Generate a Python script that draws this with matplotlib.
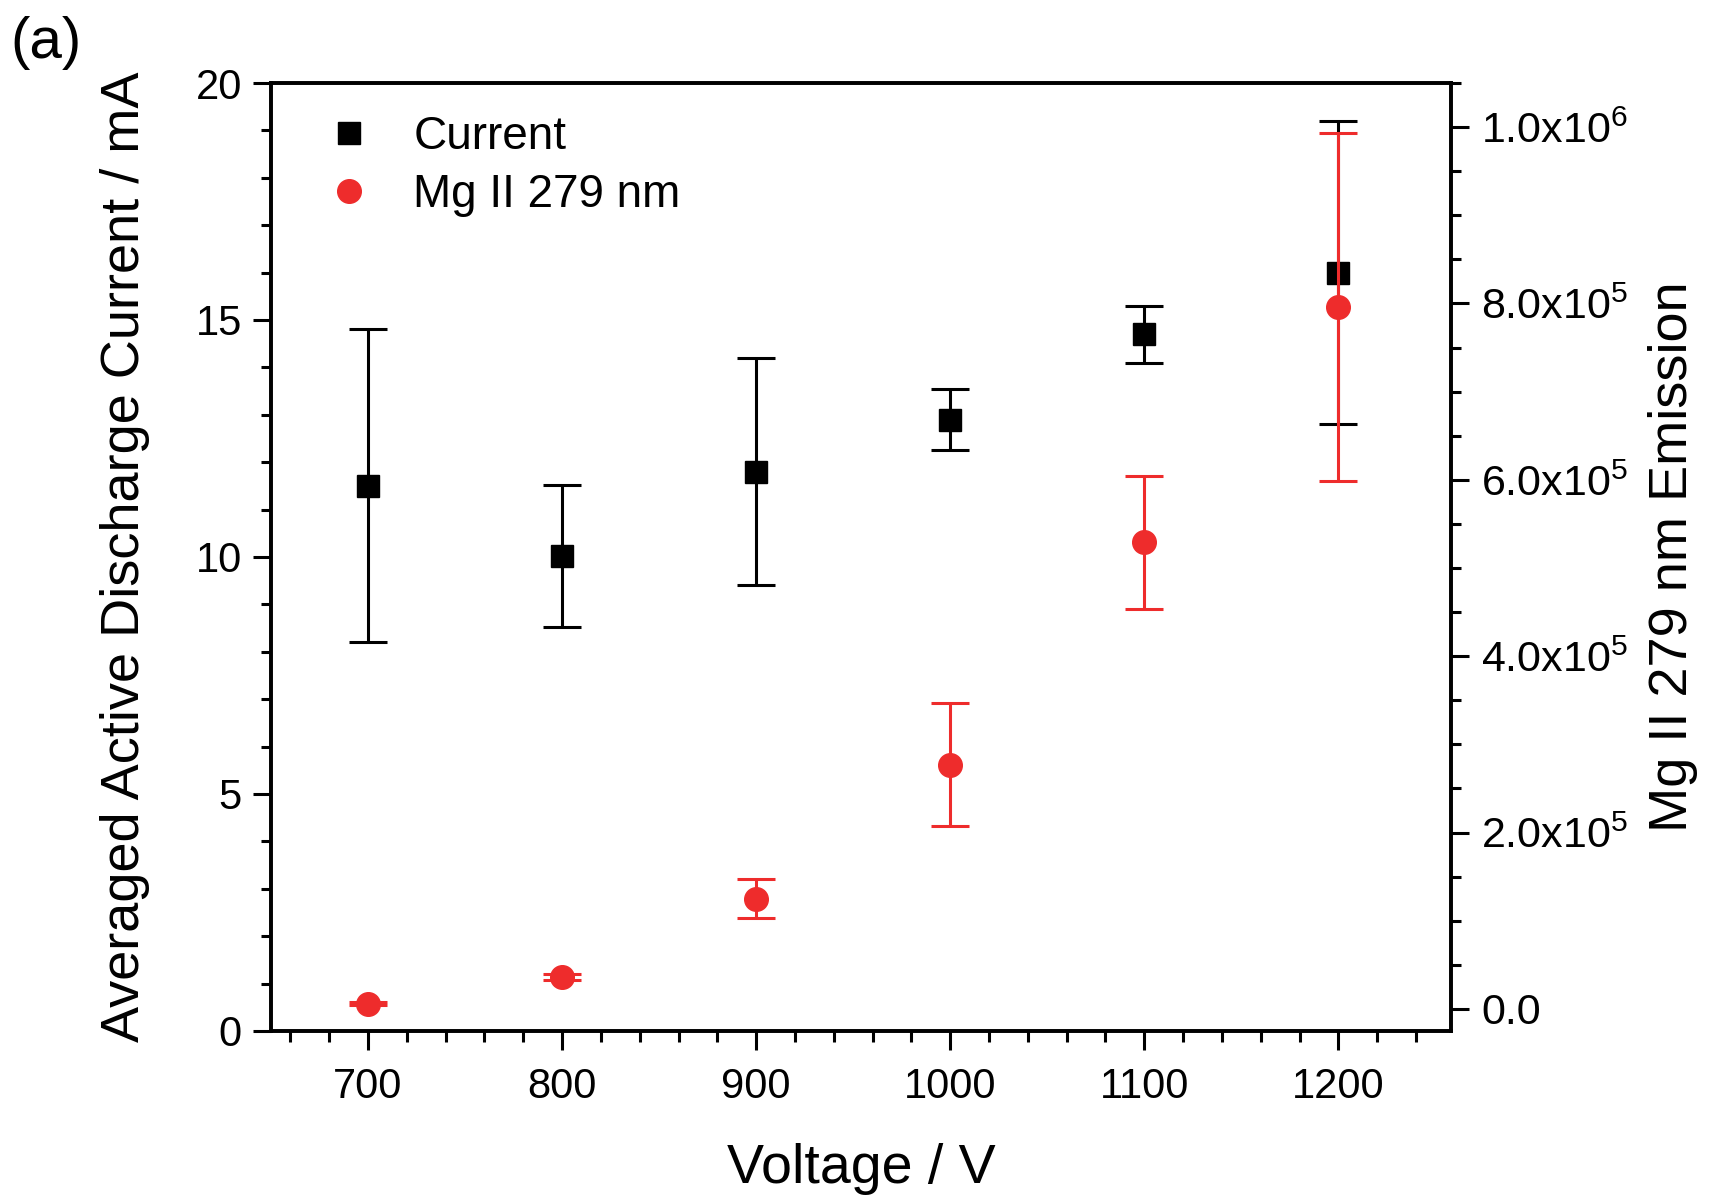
import numpy as np
import matplotlib
matplotlib.use("Agg")
import matplotlib.pyplot as plt
from matplotlib.ticker import MultipleLocator, FuncFormatter
from matplotlib.lines import Line2D

plt.rcParams['font.family'] = ['Liberation Sans', 'DejaVu Sans']
plt.rcParams['mathtext.fontset'] = 'custom'
plt.rcParams['mathtext.rm'] = 'Liberation Sans'

voltage = [700, 800, 900, 1000, 1100, 1200]
current = [11.5, 10.02, 11.8, 12.9, 14.7, 16.0]
current_err = [3.3, 1.5, 2.4, 0.65, 0.6, 3.2]
mg_emission = [6.0e3, 3.6e4, 1.25e5, 2.77e5, 5.29e5, 7.96e5]
mg_err = [2.0e3, 3.7e3, 2.2e4, 7.0e4, 7.5e4, 1.97e5]

red = '#ee2c2c'

fig = plt.figure(figsize=(17.13, 11.96), dpi=100)
ax = fig.add_axes([0.1582, 0.138, 0.6888, 0.7926])
ax2 = ax.twinx()

ax.errorbar(voltage, current, yerr=current_err, fmt='s', color='black',
            ms=16, elinewidth=2.2, capsize=14, capthick=2.2)
ax2.errorbar(voltage, mg_emission, yerr=mg_err, fmt='o', color=red,
             ms=17, elinewidth=2.2, capsize=14, capthick=2.2)

ax.set_xlim(650, 1258)
ax.set_ylim(0, 20)
ax2.set_ylim(-2.5e4, 1.05e6)

ax.xaxis.set_major_locator(MultipleLocator(100))
ax.xaxis.set_minor_locator(MultipleLocator(20))
ax.yaxis.set_major_locator(MultipleLocator(5))
ax.yaxis.set_minor_locator(MultipleLocator(1))
ax2.yaxis.set_major_locator(MultipleLocator(2e5))
ax2.yaxis.set_minor_locator(MultipleLocator(5e4))


def sci_fmt(v, pos):
    if abs(v) < 1:
        return '0.0'
    exp = int(np.floor(np.log10(abs(v))))
    mant = v / 10 ** exp
    return r'$\mathregular{%.1fx10^{%d}}$' % (mant, exp)


ax2.yaxis.set_major_formatter(FuncFormatter(sci_fmt))

for a in (ax, ax2):
    for s in a.spines.values():
        s.set_linewidth(2.6)

ax.tick_params(axis='x', which='major', direction='out', length=14, width=2.2,
               pad=12, labelsize=30)
ax.tick_params(axis='x', which='minor', direction='out', length=8, width=2.2)
ax.tick_params(axis='y', which='major', direction='out', length=13, width=2.2,
               pad=8, labelsize=30)
ax.tick_params(axis='y', which='minor', direction='out', length=7, width=2.2)
ax2.tick_params(axis='y', which='major', direction='out', length=13, width=2.2,
                pad=9, labelsize=31)
ax2.tick_params(axis='y', which='minor', direction='out', length=7, width=2.2)

ax.set_xlabel('Voltage / V', fontsize=40, labelpad=26)
ax.set_ylabel('Averaged Active Discharge Current / mA', fontsize=39, labelpad=33)
ax2.set_ylabel('Mg II 279 nm Emission', fontsize=39, labelpad=14)

handles = [Line2D([], [], marker='s', color='black', ls='none', ms=16),
           Line2D([], [], marker='o', color=red, ls='none', ms=17)]
ax.legend(handles, ['Current', 'Mg II 279 nm'], loc='upper left',
          bbox_to_anchor=(0.039, 0.976), frameon=False, fontsize=33,
          handlelength=1.0, handletextpad=0.9, labelspacing=0.3,
          borderpad=0.2, borderaxespad=0)

fig.text(0.006, 0.964, '(a)', fontsize=42, va='center', ha='left')

fig.savefig('out.png', dpi=100)
